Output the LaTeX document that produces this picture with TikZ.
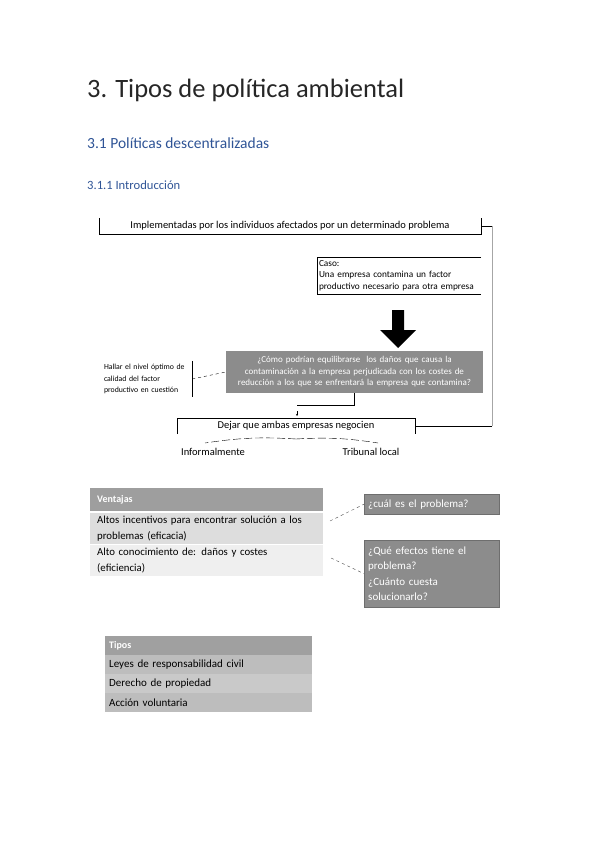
\documentclass[tikz,border=0pt]{standalone}
\usepackage{fontspec}
\setmainfont{Carlito}
\usetikzlibrary{positioning,arrows.meta}
\definecolor{headblue}{HTML}{2F5496}
\definecolor{boxgray}{HTML}{8C8C8C}
\definecolor{boxedge}{HTML}{6E6E6E}
\definecolor{vhdgray}{HTML}{9E9E9E}
\definecolor{vrowa}{HTML}{DDDDDD}
\definecolor{vrowb}{HTML}{EFEFEF}
\definecolor{thdgray}{HTML}{A0A0A0}
\definecolor{trowa}{HTML}{BDBDBD}
\definecolor{trowb}{HTML}{C9C9C9}
\begin{document}
\begin{tikzpicture}
    [x=1pt,y=-1pt,
    heading/.style={anchor=base west,inner sep=0pt,text=headblue},
    bracket/.style={draw=none,inner sep=0pt},
    askbox/.style={fill=boxgray,draw=boxedge,text=white,inner sep=4pt,
      font=\fontsize{11}{15.3}\selectfont,align=left,text width=127pt,anchor=north west},
    vrow/.style={anchor=north west,inner xsep=7pt,inner ysep=0pt,text width=219pt,
      align=left,font=\fontsize{10.8}{15.5}\selectfont},
    trow/.style={anchor=north west,inner xsep=4pt,inner ysep=0pt,text width=199pt,
      minimum height=18.5pt,align=left,font=\fontsize{11}{12}\selectfont},
    branch/.style={dashed,dash pattern=on 8pt off 3pt}]
  \useasboundingbox (0,0) rectangle (599,848);
  % headings
  \node[anchor=base west,inner sep=0pt,text=black!85,font=\fontsize{26.5}{32}\selectfont]
    (title) at (87,98) {3. Tipos de política ambiental};
  \node[heading,font=\fontsize{15.5}{18}\selectfont] (sec) at (87,148) {3.1 Políticas descentralizadas};
  \node[heading,font=\fontsize{12.6}{14}\selectfont] (subsec) at (87,189) {3.1.1 Introducción};
  % diagram
  \node[bracket,minimum width=382pt,minimum height=16pt,font=\fontsize{10.5}{12}\selectfont]
    (impl) at (290,226) {Implementadas por los individuos afectados por un determinado problema};
  \draw (impl.north west) -- (impl.south west) -- (impl.south east) -- (impl.north east);
  \node[bracket,minimum width=164pt,minimum height=37pt,text width=160pt,align=left,
    font=\fontsize{9.3}{11.5}\selectfont] (caso) at (399,275.5)
    {Caso:\\Una empresa contamina un factor\\productivo necesario para otra empresa};
  \draw (caso.north east) -- (caso.north west) -- (caso.south west) -- (caso.south east);
  \fill[black] (392,310) -- (404,310) -- (404,330) -- (416,330) -- (398,348)
    -- (380,330) -- (392,330) -- cycle;
  \node[fill=boxgray,text=white,minimum width=257pt,minimum height=42pt,text width=252pt,
    align=center,inner sep=0pt,font=\fontsize{9}{11.5}\selectfont] (preg) at (354.5,372)
    {¿Cómo podrían equilibrarse \ los daños que causa la\\contaminación a la empresa
    perjudicada con los costes de\\reducción a los que se enfrentará la empresa que contamina?};
  \node[bracket,minimum width=90pt,minimum height=36pt,text width=86pt,align=left,
    font=\fontsize{7.8}{11.5}\selectfont] (hallar) at (147,379)
    {Hallar el nivel óptimo de\\calidad del factor\\productivo en cuestión};
  \draw (hallar.north east) -- (hallar.south east);
  \draw[dashed] (hallar.east) -- (preg.west);
  \node[bracket,minimum width=238pt,minimum height=16pt,font=\fontsize{10.5}{12}\selectfont]
    (dejar) at (296,426) {Dejar que ambas empresas negocien};
  \draw (dejar.south west) -- (dejar.north west) -- (dejar.north east) -- (dejar.south east);
  \coordinate (knee) at (297,405);
  \draw (preg.south) |- (knee);
  \draw[-{Stealth[length=2pt,width=2pt]}] (297,411) -- (297,416);
  \coordinate (loop) at (492,226);
  \draw (impl.east) -- (loop);
  \draw[black!35] (loop) -- (492,426);
  \draw (492,426) -- (dejar.east);
  \coordinate (apex) at (296,439);
  \node[inner sep=0pt,anchor=base,font=\fontsize{10.5}{12}\selectfont] (inf) at (213,455) {Informalmente};
  \node[inner sep=0pt,anchor=base,font=\fontsize{10.5}{12}\selectfont] (trib) at (371,455) {Tribunal local};
  \draw[branch] (apex) to[bend right=6] (205,443);
  \draw[branch] (apex) to[bend left=6] (378,443);
  % ventajas
  \node[vrow,fill=vhdgray,text=white,minimum height=23pt,font=\bfseries\fontsize{10}{12}\selectfont]
    (vhead) at (90,488) {Ventajas};
  \node[vrow,fill=vrowa,minimum height=31pt] (vone) at (90,513)
    {Altos incentivos para encontrar solución a los\\problemas (eficacia)};
  \node[vrow,fill=vrowb,minimum height=31pt] (vtwo) at (90,545)
    {Alto conocimiento de: daños y costes\\(eficiencia)};
  \node[askbox,minimum height=20pt,inner ysep=2pt] (qone) at (364,494) {¿cuál es el problema?};
  \node[askbox,minimum height=67pt] (qtwo) at (364,540)
    {¿Qué efectos tiene el\\problema?\\¿Cuánto cuesta\\solucionarlo?};
  \coordinate (cone) at (330,521);
  \coordinate (ctwo) at (331,558);
  \draw[dashed,black!70] (cone) -- (qone.west);
  \draw[dashed,black!70] (ctwo) -- (qtwo.west);
  % tipos
  \node[trow,fill=thdgray,text=white,font=\bfseries\fontsize{10}{12}\selectfont] (thead) at (105,636) {Tipos};
  \node[trow,fill=trowa] (tone) at (105,655) {Leyes de responsabilidad civil};
  \node[trow,fill=trowb] (ttwo) at (105,674) {Derecho de propiedad};
  \node[trow,fill=trowa] (tthree) at (105,693) {Acción voluntaria};
\end{tikzpicture}
\end{document}
